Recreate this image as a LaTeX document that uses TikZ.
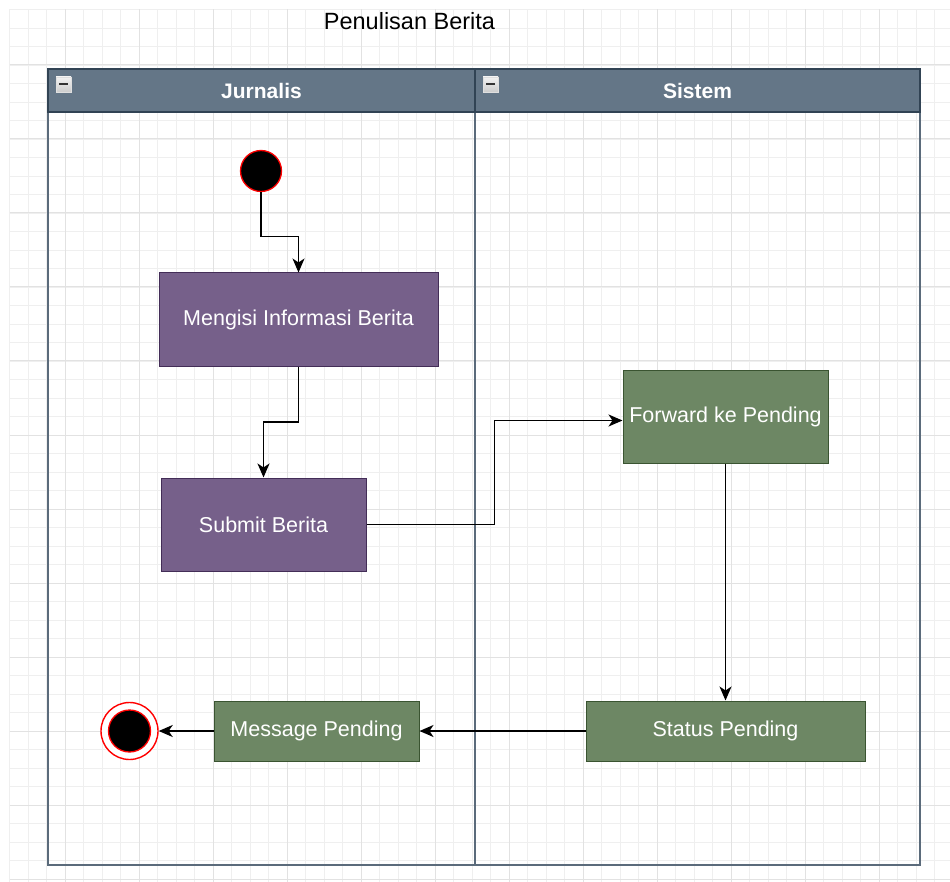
\documentclass[tikz,border=0pt]{standalone}
\usepackage{fontspec}
\setmainfont{Liberation Sans}
\usetikzlibrary{arrows.meta,calc}

\definecolor{gridminor}{HTML}{EFEFEF}
\definecolor{gridmajor}{HTML}{E2E2E2}
\definecolor{lanehead}{HTML}{647687}
\definecolor{lanestroke}{HTML}{314354}
\definecolor{laneline}{HTML}{5B6B7B}
\definecolor{actfill}{HTML}{76608A}
\definecolor{actdraw}{HTML}{432D57}
\definecolor{okfill}{HTML}{6D8764}
\definecolor{okdraw}{HTML}{3A5431}

\begin{document}
\begin{tikzpicture}[x=1pt,y=-1pt,
  gridthin/.style={draw=gridminor,line width=0.8pt},
  gridthick/.style={draw=gridmajor,line width=1pt},
  poolframe/.style={draw=laneline,line width=1.8pt},
  headband/.style={fill=lanehead,draw=lanestroke,line width=1.8pt},
  lanetitle/.style={text=white,font=\fontsize{21}{25}\selectfont\bfseries},
  minusbox/.style={rectangle,minimum width=15pt,minimum height=15pt,inner sep=0pt,
    top color=gray!10,bottom color=gray!40,draw=gray!25,
    path picture={\draw[line width=2pt,gray!40!black]
      ([xshift=3pt]path picture bounding box.west) --
      ([xshift=-3pt]path picture bounding box.east);}},
  purplebox/.style={rectangle,fill=actfill,draw=actdraw,line width=1pt,
    text=white,font=\fontsize{21.5}{25}\selectfont,inner sep=2pt},
  greenbox/.style={rectangle,fill=okfill,draw=okdraw,line width=1pt,
    text=white,font=\fontsize{21.5}{25}\selectfont,inner sep=2pt},
  startdot/.style={circle,fill=black,draw=red,line width=1.3pt,minimum size=41pt,inner sep=0pt},
  endring/.style={circle,fill=white,draw=red,line width=1.4pt,minimum size=57pt,inner sep=0pt},
  enddot/.style={circle,fill=black,draw=red,line width=1.3pt,minimum size=42pt,inner sep=0pt},
  flow/.style={draw=black,line width=1.6pt,-{Stealth[length=14pt,width=12pt,inset=4pt]}}
]
\useasboundingbox (0,0) rectangle (950,882);
\fill[white] (0,0) rectangle (950,882);

% background grid
\foreach \i in {0,...,50} {
  \pgfmathsetmacro\gx{9.5+18.5*\i}
  \draw[gridthin] (\gx,9.5) -- (\gx,882);
}
\foreach \j in {0,...,47} {
  \pgfmathsetmacro\gy{9.5+18.5*\j}
  \draw[gridthin] (9.5,\gy) -- (950,\gy);
}
\foreach \i in {3,7,...,47} {
  \pgfmathsetmacro\gx{9.5+18.5*\i}
  \draw[gridthick] (\gx,9.5) -- (\gx,882);
}
\foreach \j in {3,7,...,47} {
  \pgfmathsetmacro\gy{9.5+18.5*\j}
  \draw[gridthick] (9.5,\gy) -- (950,\gy);
}

% title
\node[font=\fontsize{23.5}{28}\selectfont] (title) at (409.5,21) {Penulisan Berita};

% swimlane pool (transparent body, grid shows through)
\draw[poolframe] (48,69) rectangle (920,865);
\draw[poolframe] (475,69) -- (475,865);
\draw[headband] (48,69) rectangle (920,112);
\draw[lanestroke,line width=1.8pt] (475,69) -- (475,112);
\node[lanetitle] (jurnalis) at (261.5,91) {Jurnalis};
\node[lanetitle] (sistem) at (697.5,91) {Sistem};
\node[minusbox] (jmin) at (63.5,84.5) {};
\node[minusbox] (smin) at (490.5,84.5) {};

% activities
\node[startdot] (start) at (261,171) {};
\node[purplebox,minimum width=279pt,minimum height=93pt] (mengisi) at (298.5,319.5) {Mengisi Informasi Berita};
\node[purplebox,minimum width=205pt,minimum height=93pt] (submit) at (263.5,524.5) {Submit Berita};
\node[greenbox,minimum width=205pt,minimum height=93pt] (forward) at (725.5,416.5) {Forward ke Pending};
\node[greenbox,minimum width=279pt,minimum height=60pt] (status) at (725.5,731) {Status Pending};
\node[greenbox,minimum width=205pt,minimum height=60pt] (message) at (316.5,731) {Message Pending};
\node[endring] (finish) at (129.5,731) {};
\node[enddot] (finishdot) at (129.5,731) {};

% control flow
\draw[flow] (start.south) |- ($(start.south)!0.55!(mengisi.north)$) -| (mengisi.north);
\draw[flow] (mengisi.south) |- ($(mengisi.south)!0.5!(submit.north)$) -| (submit.north);
\draw[flow] (submit.east) -| ($(submit.east)!0.5!(forward.west)$) |- ([yshift=-4pt]forward.west);
\draw[flow] (forward.south) -- (status.north);
\draw[flow] (status.west) -- (message.east);
\draw[flow] (message.west) -- (finish.east);
\end{tikzpicture}
\end{document}
